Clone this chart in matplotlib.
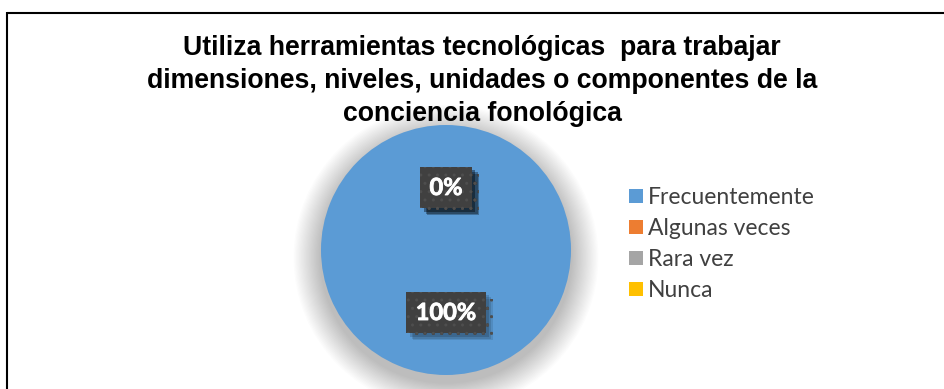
import matplotlib
matplotlib.use("Agg")
import matplotlib.pyplot as plt
import matplotlib.patheffects as pe
from matplotlib.patches import Circle, Rectangle
from matplotlib.lines import Line2D
import numpy as np

categories = ["Frecuentemente", "Algunas veces", "Rara vez", "Nunca"]
values = [100, 0, 0, 0]
colors = ["#5B9BD5", "#ED7D31", "#A5A5A5", "#FFC000"]
title = ("Utiliza herramientas tecnológicas  para trabajar\n"
         "dimensiones, niveles, unidades o componentes de la\n"
         "conciencia fonológica")

W, H = 944, 389
fig = plt.figure(figsize=(W / 100, H / 100), dpi=100)

# chart frame (only top and left edges fall inside the image)
fig.add_artist(Line2D([7 / W, 1.01], [1 - 12.5 / H, 1 - 12.5 / H], color="black", lw=1.5,
                      transform=fig.transFigure, solid_capstyle="butt"))
fig.add_artist(Line2D([6.5 / W, 6.5 / W], [1 - 12 / H, -0.01], color="black", lw=1.5,
                      transform=fig.transFigure, solid_capstyle="butt"))

fig.text(482 / W, 1 - 81 / H, title, ha="center", va="center",
         fontsize=19.2, fontweight="bold", family="Liberation Sans",
         linespacing=1.36, color="black")

cx, cy, r = 446, 250, 125
ax = fig.add_axes([(cx - r) / W, (H - cy - r) / H, 2 * r / W, 2 * r / H])

# soft shadow behind the pie
n = 22
for i in range(n):
    rr = 1.0 + 0.22 * (i + 1) / n
    ax.add_patch(Circle((0, -0.06), rr, color="black", alpha=0.01, lw=0, zorder=0,
                        clip_on=False))

wedges, _ = ax.pie(values, colors=colors, startangle=90, counterclock=False,
                   radius=1.0, wedgeprops=dict(linewidth=0))
for w in wedges:
    w.set_zorder(2)
ax.set_xlim(-1, 1)
ax.set_ylim(-1, 1)
ax.set_aspect("equal")
ax.axis("off")

# value labels in dark boxes with a soft drop shadow
total = sum(values)
start = 90.0
for v in values:
    sweep = 360.0 * v / total
    mid = np.deg2rad(start - sweep / 2)
    start -= sweep
    x, y = 0.5 * np.cos(mid), 0.5 * np.sin(mid)
    t = ax.text(x, y, f"{v:.0f}%", ha="center", va="center", color="white",
                fontsize=17, fontweight="bold", family="Lato", zorder=5,
                bbox=dict(boxstyle="square,pad=0.4", facecolor="#404040",
                          edgecolor="#4e4e4e", linewidth=0, hatch=".."))
    t.set_path_effects([pe.withStroke(linewidth=0.6, foreground="white")])
    t.get_bbox_patch().set_path_effects([
        pe.SimplePatchShadow(offset=(5, -5), shadow_rgbFace="black", alpha=0.10),
        pe.SimplePatchShadow(offset=(4, -4), shadow_rgbFace="black", alpha=0.12),
        pe.SimplePatchShadow(offset=(2.5, -2.5), shadow_rgbFace="black", alpha=0.15),
        pe.Normal()])

handles = [Rectangle((0, 0), 1, 1, facecolor=c, edgecolor="none") for c in colors]
fig.legend(handles, categories, loc="upper left",
           bbox_to_anchor=(629 / W, 1 - 187 / H), frameon=False,
           prop=dict(family="Lato", size=16.5), handlelength=0.6, handleheight=0.6,
           handletextpad=0.22, labelspacing=0.44, labelcolor="#404040",
           borderaxespad=0, borderpad=0)

fig.savefig("out.png", dpi=100)
